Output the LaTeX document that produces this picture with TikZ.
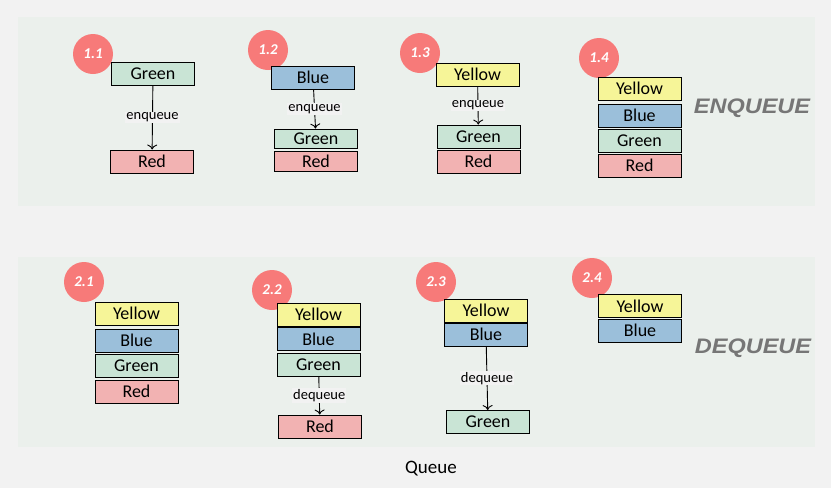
\documentclass[tikz,border=0pt]{standalone}
\usepackage{fontspec}
\setmainfont{Carlito}
\newfontfamily\headfont{Liberation Sans}
\usetikzlibrary{arrows.meta}
\definecolor{pagebg}{HTML}{F2F2F2}
\definecolor{panelbg}{HTML}{EBF0EC}
\definecolor{cgreen}{HTML}{C9E4D5}
\definecolor{cblue}{HTML}{9BBFDA}
\definecolor{cyellow}{HTML}{F6F598}
\definecolor{cred}{HTML}{F2B2B2}
\definecolor{cdot}{HTML}{F77A79}
\definecolor{headgray}{HTML}{767676}
\tikzset{
  box/.style={draw=black, line width=0.9pt, minimum width=83pt, minimum height=23pt,
    inner sep=0pt, font=\fontsize{18}{18}\selectfont},
  qgreen/.style={box, fill=cgreen},
  qblue/.style={box, fill=cblue},
  qyellow/.style={box, fill=cyellow},
  qred/.style={box, fill=cred},
  stepnum/.style={circle, fill=cdot, minimum size=40pt, inner sep=0pt, text=white,
    font=\fontsize{15}{15}\selectfont\bfseries\itshape},
  lbl/.style={fill=pagebg, inner sep=1pt, font=\fontsize{14.5}{14.5}\selectfont},
  move/.style={line width=0.9pt, -{To[length=5pt,width=10pt]}},
  head/.style={text=headgray, font=\fontsize{21}{21}\selectfont\headfont\bfseries\itshape}
}
\begin{document}
\begin{tikzpicture}[x=1pt, y=-1pt]
\useasboundingbox[fill=pagebg] (0, 0) rectangle (831, 488);
\fill[panelbg] (18, 17) rectangle (815, 206);
\fill[panelbg] (18, 257) rectangle (815, 447);
% enqueue
\node[stepnum] (s11) at (93, 54) {1.1};
\node[qgreen] (g11) at (153, 73.5) {Green};
\node[qred] (r11) at (152, 161.5) {Red};
\draw[move] (g11) -- node[lbl] {enqueue} (r11);
\node[stepnum] (s12) at (268, 50) {1.2};
\node[qblue] (b12) at (313, 77.5) {Blue};
\node[qgreen, minimum height=19pt] (g12) at (316, 138.5) {Green};
\node[qred, minimum height=20pt] (r12) at (316, 161) {Red};
\draw[move] (b12) -- node[lbl] {enqueue} (g12);
\node[stepnum] (s13) at (420, 53) {1.3};
\node[qyellow] (y13) at (477.5, 74.5) {Yellow};
\node[qgreen] (g13) at (478.5, 136.5) {Green};
\node[qred] (r13) at (478.5, 161.5) {Red};
\draw[move] (y13) -- node[lbl] {enqueue} (g13);
\node[stepnum] (s14) at (599, 58) {1.4};
\node[qyellow] (y14) at (639.5, 88.5) {Yellow};
\node[qblue] (b14) at (639.5, 115.5) {Blue};
\node[qgreen] (g14) at (639.5, 140.5) {Green};
\node[qred] (r14) at (639.5, 165.5) {Red};
\node[head] (enq) at (752, 108) {\scalebox{1.12}[1]{ENQUEUE}};
% dequeue
\node[stepnum] (s21) at (84, 282) {2.1};
\node[qyellow] (y21) at (136.5, 313.5) {Yellow};
\node[qblue] (b21) at (136.5, 340.5) {Blue};
\node[qgreen] (g21) at (136.5, 365.5) {Green};
\node[qred] (r21) at (136.5, 391.5) {Red};
\node[stepnum] (s22) at (272, 290) {2.2};
\node[qyellow] (y22) at (318.5, 314.5) {Yellow};
\node[qblue] (b22) at (318.5, 339) {Blue};
\node[qgreen] (g22) at (318.5, 364.5) {Green};
\node[qred] (r22) at (320, 426.5) {Red};
\draw[move] (g22) -- node[lbl] {dequeue} (r22);
\node[stepnum] (s23) at (436, 282) {2.3};
\node[qyellow] (y23) at (486, 310.5) {Yellow};
\node[qblue] (b23) at (486, 334.5) {Blue};
\node[qgreen] (g23) at (488, 422) {Green};
\draw[move] (b23) -- node[lbl] {dequeue} (g23);
\node[stepnum] (s24) at (592, 278) {2.4};
\node[qyellow] (y24) at (640, 306) {Yellow};
\node[qblue] (b24) at (640, 330.5) {Blue};
\node[head] (deq) at (753, 348) {\scalebox{1.12}[1]{DEQUEUE}};
\node[font=\fontsize{19}{19}\selectfont] (cap) at (431, 469) {Queue};
\end{tikzpicture}
\end{document}
